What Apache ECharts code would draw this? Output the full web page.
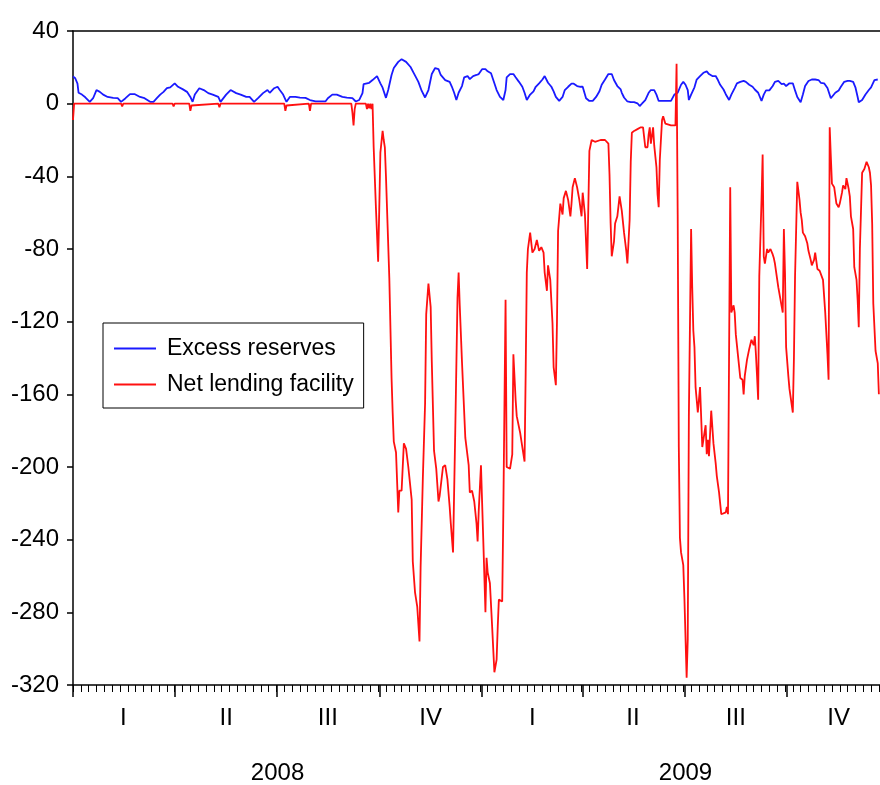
<!DOCTYPE html>
<html>
<head>
<meta charset="utf-8">
<script src="https://cdn.jsdelivr.net/npm/echarts@6/dist/echarts.min.js"></script>
<style>
  html, body { margin: 0; padding: 0; background: #fff; }
  #chart { width: 880px; height: 785px; }
</style>
</head>
<body>
<div id="chart"></div>
<script>
// x = calendar day counted from 1 Jan 2008
var seriesNames = ['Excess reserves', 'Net lending facility'];
var quarterStarts = [0, 91, 182, 274, 366, 456, 547, 639];
var quarterMids = [45, 137, 228, 320, 411, 501, 593, 685];
var quarterLabels = ['I', 'II', 'III', 'IV', 'I', 'II', 'III', 'IV'];
var yearMids = [183, 548];
var yearLabels = ['2008', '2009'];
var lastDay = 722;

var excessReserves = [
    [0,15],[2,14],[4,11],[5,6],[8,5],[11,3.5],[15,1],[18,3],[21,7.5],[24,6.5],[27,5],[31,3.7],[36,3.2],[40,3],[43,1],
    [47,3],[51,5.3],[55,5.3],[60,3.7],[64,3],[69,1],[72,1],[75,3],[78,5],[81,6.5],[84,8.5],[87,9],[91,11.2],[94,9.3],
    [98,8],[102,6.5],[105,3.7],[107,1],[109,5],[113,8.5],[117,7.5],[121,5.8],[125,5],[130,3.7],[132,1],[137,5],[141,7.5],
    [146,5.8],[150,5],[155,3.7],[158,3.7],[162,1],[166,3.3],[170,5.8],[174,7.5],[176,6],[180,8.5],[183,9.3],[185,7.5],
    [188,5],[191,1],[194,3.7],[199,3.7],[203,3.3],[208,3.2],[212,2],[217,1.3],[221,1.3],[226,1.3],[228,3],[232,5],[236,5],
    [241,3.7],[245,3.3],[250,3],[253,1.2],[256,2],[259,5.8],[260,10.8],[265,11.5],[268,13],[272,15.2],[275,11.2],[277,8.8],
    [280,3.2],[282,7.5],[285,15.8],[287,19.6],[291,23],[294,24.5],[298,23],[302,20.2],[305,16.7],[309,12],[312,7],[315,3.4],
    [318,7.5],[321,16.3],[324,19.6],[327,19],[329,15.8],[333,13],[337,12],[339,9.3],[341,6],[343,2],[345,6],[348,9.7],
    [350,14.5],[353,15.2],[355,13.5],[358,15.2],[361,15.8],[363,16.3],[366,19],[369,19],[371,17.8],[374,16.7],[377,11.2],
    [379,7.5],[382,3.7],[385,2],[387,7.5],[388,14.5],[391,16.3],[394,16.3],[396,14.5],[399,12],[402,9.3],[404,6],[406,2],
    [409,5],[412,6.8],[414,9.3],[417,11.2],[420,13.3],[422,15.2],[425,11.5],[428,9.3],[430,6.8],[432,3.7],[435,1.5],
    [438,3.7],[440,7.5],[443,9.3],[446,11],[448,11],[451,9.7],[454,9.3],[456,9.3],[459,3],[462,1.5],[465,1.5],[468,3.7],
    [471,6.8],[473,10.4],[476,13.3],[479,16.3],[482,16.3],[484,13],[487,9.7],[490,7.8],[491,6],[493,3.4],[496,1.2],
    [499,0.8],[502,0.8],[505,0.2],[507,-1.3],[509,0],[512,2],[515,6],[517,7.5],[520,7.5],[522,5],[524,1.5],[527,1.5],
    [530,1.5],[533,1.5],[535,1.5],[538,5],[541,6],[542,6],[544,10.4],[546,12],[548,10.4],[550,7.5],[551,2],[553,5],
    [556,9],[558,13.3],[561,15.2],[564,17],[567,17.8],[569,16.3],[572,15.2],[575,15.2],[577,13],[579,10.4],[582,7.8],
    [584,5.2],[587,2],[589,5],[592,8.6],[594,11.2],[597,12],[600,12.5],[602,12],[605,10.4],[608,9.3],[610,7.8],[613,6],
    [616,1.5],[618,5],[620,7.3],[623,7.3],[626,9.7],[628,12],[631,12.5],[634,10.8],[636,11],[638,9.7],[641,11.2],
    [644,11.2],[646,7.3],[648,3.7],[651,0.8],[653,5],[655,9.7],[658,12.5],[661,13.3],[664,13.3],[667,13],[669,11.5],
    [672,11.2],[675,8.6],[678,3],[679,3.7],[682,6],[685,7.3],[687,9.3],[690,12],[693,12.5],[695,12.5],[698,12],[700,9],
    [702,3.7],[703,0.8],[706,2],[709,5],[712,7.5],[714,9],[717,13],[720,13.3]
];

var netLending = [
    [0,-9],[1,0],[43,0],[44,-1.5],[45,0],[89,0],[90,-1.5],[91,0],[104,0],[105,-4],[106,-1],[107,0],[130,0],[131,-2],
    [132,0],[189,0],[190,-4],[191,-1],[192,0],[211,0],[212,-4],[213,0],[249,0],[250,-5],[251,-12],[252,-3],[253,0],
    [262,0],[263,-3],[264,0],[265,-2.5],[266,0],[267,-3],[268,0],
    [269,-24],[271,-57],[273,-87],[274,-58],[275,-27],[277,-15],[278,-20],[279,-24],[280,-40],[283,-96],[285,-151],
    [286,-170],[287,-186],[289,-192],[291,-225],[292,-213],[294,-213],[296,-187],[298,-190],[300,-200],[303,-218],
    [304,-252],[306,-269],[308,-277],[310,-296],[311,-255],[313,-206],[315,-165],[316,-116],[318,-99],[320,-112],
    [321,-142],[323,-191],[325,-201],[327,-219],[328,-216],[331,-200],[333,-199],[335,-207],[337,-222],[338,-231],
    [340,-247],[342,-180],[344,-107],[345,-93],[346,-111],[348,-142],[351,-184],[354,-199],[355,-214],[357,-213],
    [359,-219],[361,-231],[362,-241],[363,-224],[365,-199],[367,-239],[369,-280],[370,-250],[371,-258],[373,-264],
    [375,-288],[377,-313],[379,-306],[380,-288],[381,-273],[384,-274],[385,-225],[387,-108],[388,-200],[391,-201],
    [393,-193],[394,-138],[396,-163],[397,-172],[400,-181],[402,-189],[404,-197],[405,-148],[406,-93],[407,-80],
    [409,-71],[411,-82],[413,-80],[415,-75],[417,-81],[419,-79],[421,-82],[422,-93],[424,-103],[425,-89],[427,-97],
    [429,-121],[430,-145],[432,-155],[433,-120],[434,-70],[436,-55],[438,-61],[439,-52],[441,-48],[443,-53],[445,-62],
    [446,-55],[447,-46],[449,-41],[451,-46],[453,-53],[455,-62],[456,-49],[458,-61],[460,-91],[462,-26],[464,-20],
    [467,-21],[472,-20],[476,-20],[479,-22],[480,-39],[481,-66],[482,-84],[484,-76],[485,-66],[487,-62],[489,-51],
    [490,-51],[491,-59],[493,-71],[495,-81],[496,-88],[498,-64],[499,-32],[500,-16],[502,-15],[505,-14],[508,-13],
    [510,-13],[512,-24],[514,-24],[515,-17],[516,-13],[517,-22],[519,-13],[520,-23],[522,-35],[523,-50],[524,-57],
    [525,-31],[526,-31],[527,-9],[528,-7],[530,-11],[535,-12],[539,-12],[540,22],[541,-61],[542,-189],[543,-239],
    [544,-247],[546,-254],[547,-272],[549,-316],[550,-295],[551,-172],[552,-172],[553,-69],[554,-101],[555,-125],
    [556,-134],[557,-156],[558,-163],[559,-170],[561,-156],[563,-189],[564,-185],[566,-177],[567,-193],[568,-185],
    [569,-194],[571,-169],[573,-187],[575,-198],[576,-205],[578,-214],[580,-226],[584,-225],[585,-222],[586,-226],
    [588,-46],[589,-115],[591,-111],[592,-115],[593,-127],[595,-139],[597,-151],[599,-152],[600,-160],[601,-150],
    [603,-141],[605,-135],[607,-130],[609,-133],[610,-128],[611,-138],[612,-150],[613,-163],[614,-95],[616,-53],
    [617,-28],[618,-84],[619,-88],[621,-80],[622,-82],[624,-80],[626,-83],[627,-85],[628,-88],[629,-87],[631,-101],
    [633,-108],[635,-115],[636,-69],[637,-93],[638,-134],[640,-150],[641,-157],[644,-170],[645,-140],[646,-95],
    [648,-43],[650,-53],[651,-60],[652,-64],[653,-71],[655,-73],[657,-77],[658,-81],[660,-86],[661,-89],[663,-86],
    [664,-82],[666,-91],[668,-92],[669,-91],[671,-97],[673,-115],[675,-138],[676,-152],[677,-13],[678,-29],[679,-44],
    [681,-46],[683,-55],[685,-57],[686,-55],[688,-49],[689,-45],[691,-47],[692,-41],[694,-47],[695,-51],[696,-62],
    [698,-69],[699,-90],[701,-97],[702,-108],[703,-123],[704,-80],[705,-59],[706,-38],[708,-36],[710,-32],[712,-35],
    [713,-38],[714,-45],[715,-66],[716,-110],[718,-136],[719,-137],[720,-143],[721,-160]
];

var font = '"Liberation Sans", Arial, sans-serif';
var chart = echarts.init(document.getElementById('chart'));

var option = {
    animation: false,
    backgroundColor: '#fff',
    textStyle: { fontFamily: font },
    grid: { left: 73, right: 0, top: 31, bottom: 100 },
    legend: {
        data: seriesNames,
        orient: 'vertical',
        left: 103,
        top: 323,
        padding: [14, 10, 12, 10],
        itemGap: 13,
        itemWidth: 42,
        itemHeight: 14,
        backgroundColor: '#fff',
        borderColor: '#000',
        borderWidth: 1,
        borderRadius: 0,
        itemStyle: { opacity: 0 },
        textStyle: { color: '#000', fontSize: 23, fontFamily: font, padding: [0, 0, 0, 6] }
    },
    xAxis: [
        {
            // quarter ticks and labels
            type: 'value',
            min: 0,
            max: lastDay,
            position: 'bottom',
            axisLine: { show: true, onZero: false, lineStyle: { color: '#000', width: 1.5 } },
            axisTick: { show: true, customValues: quarterStarts, length: 12, lineStyle: { color: '#000', width: 1.5 } },
            axisLabel: {
                customValues: quarterMids,
                margin: 21,
                color: '#000',
                fontSize: 24,
                fontFamily: font,
                formatter: function (v) {
                    return quarterLabels[quarterMids.indexOf(v)];
                }
            },
            splitLine: { show: false }
        },
        {
            // weekly minor ticks
            type: 'value',
            min: 0,
            max: lastDay,
            interval: 7,
            position: 'bottom',
            axisLine: { show: false, onZero: false },
            axisTick: { show: true, length: 7, lineStyle: { color: '#000', width: 1 } },
            axisLabel: { show: false },
            splitLine: { show: false }
        },
        {
            // year labels
            type: 'value',
            min: 0,
            max: lastDay,
            position: 'bottom',
            axisLine: { show: false, onZero: false },
            axisTick: { show: false },
            axisLabel: {
                customValues: yearMids,
                margin: 76,
                color: '#000',
                fontSize: 24,
                fontFamily: font,
                formatter: function (v) {
                    return yearLabels[yearMids.indexOf(v)];
                }
            },
            splitLine: { show: false }
        },
        {
            // top frame line
            type: 'value',
            min: 0,
            max: lastDay,
            position: 'top',
            axisLine: { show: true, onZero: false, lineStyle: { color: '#000', width: 1.5 } },
            axisTick: { show: false },
            axisLabel: { show: false },
            splitLine: { show: false }
        }
    ],
    yAxis: {
        type: 'value',
        min: -320,
        max: 40,
        interval: 40,
        axisLine: { show: true, onZero: false, lineStyle: { color: '#000', width: 1.5 } },
        axisTick: { show: true, length: 6, lineStyle: { color: '#000', width: 1.5 } },
        axisLabel: { margin: 14, color: '#000', fontSize: 24, fontFamily: font },
        splitLine: { show: false }
    },
    series: [
        {
            name: seriesNames[0],
            type: 'line',
            xAxisIndex: 0,
            data: excessReserves,
            symbol: 'none',
            color: '#1a1aff',
            lineStyle: { color: '#1a1aff', width: 1.8 }
        },
        {
            name: seriesNames[1],
            type: 'line',
            xAxisIndex: 0,
            data: netLending,
            symbol: 'none',
            color: '#ff1010',
            lineStyle: { color: '#ff1010', width: 1.8 }
        }
    ]
};

chart.setOption(option);
</script>
</body>
</html>
